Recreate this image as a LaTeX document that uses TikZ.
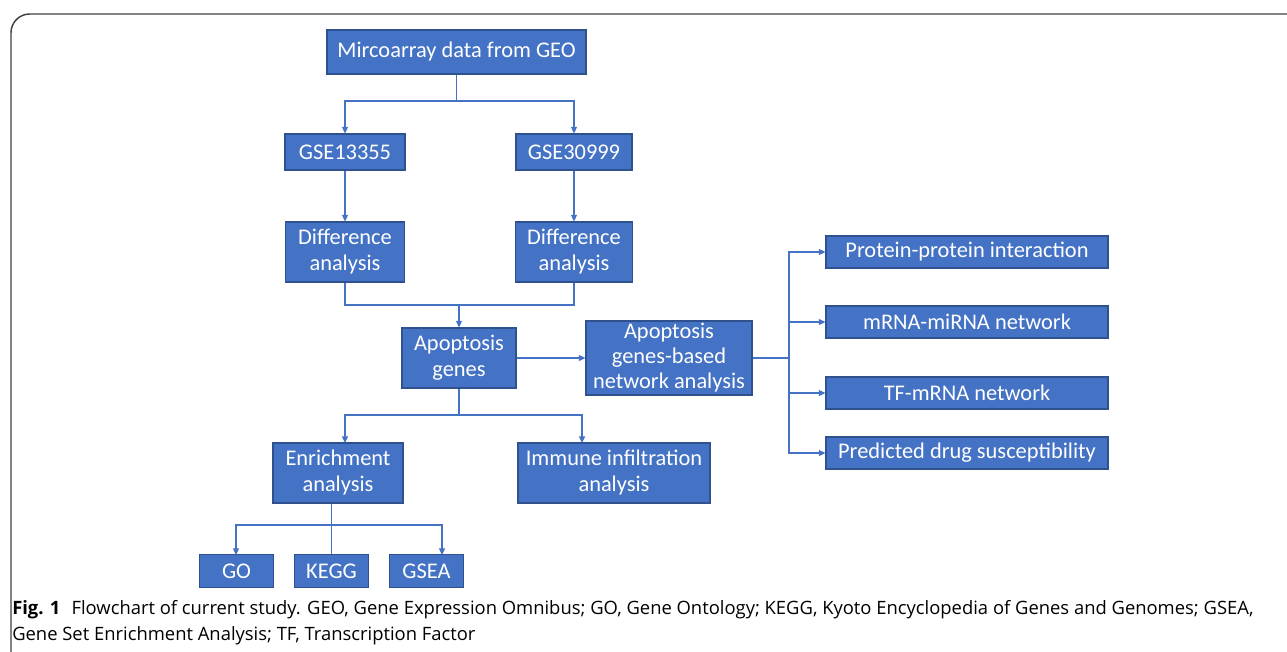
\documentclass[tikz,border=0pt]{standalone}
\usepackage{fontspec}
\setmainfont{Carlito}
\newfontfamily\capfont{Open Sans}
\usepackage{xcolor}
\usetikzlibrary{arrows.meta,positioning}
\definecolor{boxblue}{HTML}{4472C4}
\definecolor{boxedge}{HTML}{2F528F}
\definecolor{framegray}{HTML}{404040}

\begin{document}
\begin{tikzpicture}[
  x=0.75pt,y=-0.75pt,
  box/.style={draw=boxedge,line width=0.8pt,fill=boxblue,text=white,align=center,inner sep=0pt,
    font=\fontsize{16.8}{19.5}\selectfont},
  wide/.style={box,minimum width=211.5pt,minimum height=24pt},
  small/.style={box,minimum width=55pt,minimum height=25pt},
  arr/.style={-{Triangle[length=5pt,width=4.5pt]},draw=boxblue,line width=0.9pt},
  ln/.style={draw=boxblue,line width=0.9pt},
  capline/.style={anchor=base west,inner sep=0pt,font=\capfont\fontsize{13.8}{16}\selectfont}
]
\useasboundingbox (0,0) rectangle (1287,651);
% frame
\draw[framegray,line width=1.1pt,rounded corners=14pt] (11,660) -- (11,14) -- (1300,14);

% upper part
\node[box,minimum width=194.25pt,minimum height=33pt] (geo) at (456.5,52) {Mircoarray data from GEO};
\node[box,minimum width=90pt,minimum height=27pt] (gse1) at (345,152) {GSE13355};
\node[box,minimum width=87pt,minimum height=27pt] (gse2) at (574,152) {GSE30999};
\node[box,minimum width=89pt,minimum height=45pt] (diff1) at (345,252) {Difference\\analysis};
\node[box,minimum width=88pt,minimum height=45pt] (diff2) at (574,252) {Difference\\analysis};
\node[box,minimum width=85.5pt,minimum height=45pt] (apo) at (459,358) {Apoptosis\\genes};
\node[box,minimum width=124.5pt,minimum height=55.5pt,font=\fontsize{16.8}{18.75}\selectfont] (net) at (669,358) {Apoptosis\\genes-based\\network analysis};

% network outputs
\node[wide] (ppi) at (967,252) {Protein-protein interaction};
\node[wide] (mirna) at (967,322) {mRNA-miRNA network};
\node[wide] (tf) at (967,393) {TF-mRNA network};
\node[wide] (drug) at (967,453) {Predicted drug susceptibility};

% lower part
\node[box,minimum width=97.5pt,minimum height=45pt] (enr) at (338,473) {Enrichment\\analysis};
\node[box,minimum width=144pt,minimum height=45pt] (imm) at (614,473) {Immune infiltration\\analysis};
\node[small] (go) at (236.5,571) {GO};
\node[small] (kegg) at (331.5,571) {KEGG};
\node[small] (gsea) at (426.5,571) {GSEA};

% connectors
\coordinate (j1) at (456.5,101);
\draw[ln] (geo.south) -- (j1);
\draw[arr] (j1) -| (gse1.north);
\draw[arr] (j1) -| (gse2.north);
\draw[arr] (gse1) -- (diff1);
\draw[arr] (gse2) -- (diff2);
\coordinate (j2) at (459,305);
\draw[ln] (diff1.south) |- (j2) -| (diff2.south);
\draw[arr] (j2) -- (apo.north);
\draw[arr] (apo) -- (net);
\coordinate (j3) at (789,358);
\draw[ln] (net.east) -- (j3);
\foreach \t in {ppi,mirna,tf,drug}
  \draw[arr] (j3) |- (\t.west);
\coordinate (j4) at (459,415);
\coordinate (e1) at (345,443);
\coordinate (i1) at (582,443);
\draw[ln] (apo.south) -- (j4);
\draw[arr] (j4) -| (e1);
\draw[arr] (j4) -| (i1);
\coordinate (j5) at (331.5,525);
\coordinate (g1) at (236,555);
\coordinate (g3) at (442,555);
\draw[ln] (j5 |- enr.south) -- (kegg.north);
\draw[arr] (j5) -| (g1);
\draw[arr] (j5) -| (g3);

% caption
\node[capline] (cap1) at (12,614) {\textbf{Fig. 1}\hspace{0.6em}Flowchart of current study. GEO, Gene Expression Omnibus; GO, Gene Ontology; KEGG, Kyoto Encyclopedia of Genes and Genomes; GSEA,};
\node[capline] (cap2) at (12,640) {Gene Set Enrichment Analysis; TF, Transcription Factor};
\end{tikzpicture}
\end{document}
